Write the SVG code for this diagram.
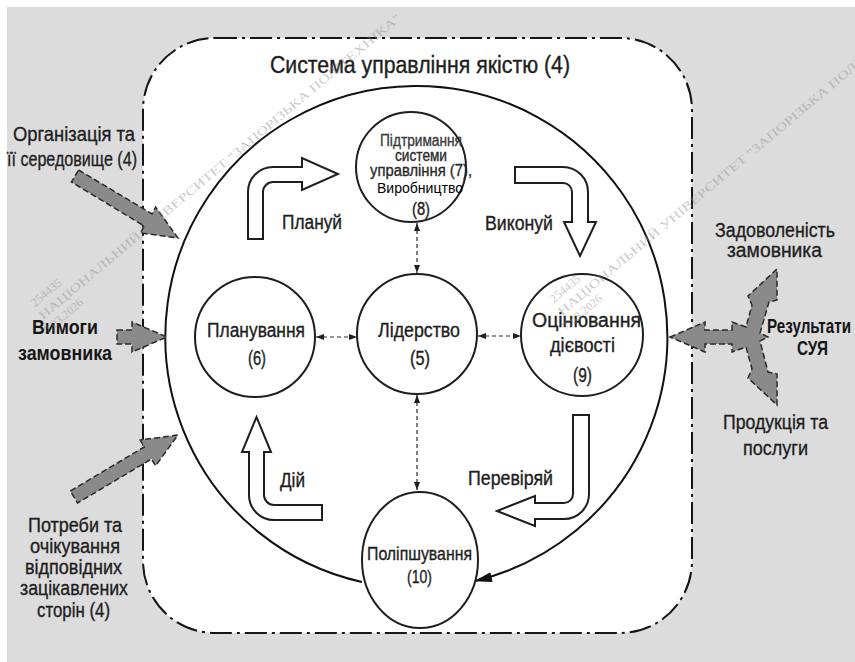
<svg xmlns="http://www.w3.org/2000/svg" width="855" height="662" viewBox="0 0 855 662">
<defs>
<style>
.t{font-family:"Liberation Sans",Arial,sans-serif;fill:#1e1e1e;stroke:#1e1e1e;stroke-width:0.35;}
.tb{font-family:"Liberation Sans",Arial,sans-serif;fill:#151515;font-weight:bold;}
.node{fill:#fff;stroke:#1e1e1e;stroke-width:2;}
.hollow{fill:#fff;stroke:#1e1e1e;stroke-width:2;stroke-linejoin:miter;}
.gray{fill:#8a8a8a;stroke:#2a2a2a;stroke-width:1.5;stroke-dasharray:6 3;stroke-linejoin:miter;}
.dash{fill:none;stroke:#2a2a2a;stroke-width:1.2;stroke-dasharray:4 3;}
.wm{font-family:"Liberation Serif","Times New Roman",serif;fill:#8c8c8c;opacity:0.45;font-size:12px;}
</style>
<marker id="sm" viewBox="0 0 8 6" markerWidth="8" markerHeight="6" refX="8" refY="3" orient="auto-start-reverse" markerUnits="userSpaceOnUse">
<path d="M0,0 L8,3 L0,6 Z" fill="#1e1e1e"/>
</marker>
<marker id="big" viewBox="0 0 18 10" markerWidth="18" markerHeight="10" refX="17" refY="5" orient="auto" markerUnits="userSpaceOnUse">
<path d="M0,0 L18,5 L0,10 Z" fill="#111"/>
</marker>
</defs>

<g id="background">
<rect x="0" y="0" width="855" height="662" fill="#ffffff"/>
<rect x="7" y="7" width="848" height="655" fill="#dcdcdc"/>
</g>

<g id="system-boundary">
<rect x="143" y="38" width="549" height="595" rx="72" ry="72" fill="#ffffff" stroke="#151515" stroke-width="2" stroke-dasharray="22 5 3 5"/>
<text class="t" x="270" y="73" font-size="23.5" textLength="300" lengthAdjust="spacingAndGlyphs">Система управління якістю (4)</text>
</g>

<g id="connectors">
<path d="M362,582 A251 251 0 1 1 475,581" fill="none" stroke="#111" stroke-width="2" marker-end="url(#big)"/>
<line class="dash" x1="417" y1="223" x2="417" y2="273" marker-start="url(#sm)" marker-end="url(#sm)"/>
<line class="dash" x1="316" y1="337" x2="357" y2="337" marker-start="url(#sm)" marker-end="url(#sm)"/>
<line class="dash" x1="478" y1="336" x2="521" y2="336" marker-start="url(#sm)" marker-end="url(#sm)"/>
<line class="dash" x1="417" y1="395" x2="417" y2="490" marker-start="url(#sm)" marker-end="url(#sm)"/>
</g>

<g id="node-support">
<circle class="node" cx="411" cy="167" r="55"/>
<text class="t" x="380" y="146" font-size="16" textLength="82" lengthAdjust="spacingAndGlyphs" style="fill:#3a3a3a;stroke:#3a3a3a">Підтримання</text>
<text class="t" x="395" y="161" font-size="16" textLength="52" lengthAdjust="spacingAndGlyphs" style="fill:#2a2a2a;stroke:#2a2a2a">системи</text>
<text class="t" x="370" y="176" font-size="16" textLength="102" lengthAdjust="spacingAndGlyphs" style="fill:#2a2a2a;stroke:#2a2a2a">управління (7),</text>
<text class="t" x="377" y="193" font-size="14" textLength="86" lengthAdjust="spacingAndGlyphs" style="fill:#000;stroke:none">Виробництво</text>
<text class="t" x="412" y="215" font-size="18" textLength="18" lengthAdjust="spacingAndGlyphs">(8)</text>
</g>

<g id="node-leadership">
<circle class="node" cx="417" cy="334" r="60"/>
<text class="t" x="378" y="337" font-size="19.5" textLength="82" lengthAdjust="spacingAndGlyphs">Лідерство</text>
<text class="t" x="410" y="365" font-size="19.5" textLength="20" lengthAdjust="spacingAndGlyphs">(5)</text>
</g>

<g id="node-planning">
<circle class="node" cx="255" cy="337" r="60"/>
<text class="t" x="207" y="337" font-size="19.5" textLength="98" lengthAdjust="spacingAndGlyphs">Планування</text>
<text class="t" x="248" y="365" font-size="19.5" textLength="18" lengthAdjust="spacingAndGlyphs">(6)</text>
</g>

<g id="node-evaluation">
<circle class="node" cx="582" cy="335" r="61"/>
<text class="t" x="532" y="327" font-size="19.5" textLength="109" lengthAdjust="spacingAndGlyphs">Оцінювання</text>
<text class="t" x="550" y="352" font-size="19.5" textLength="65" lengthAdjust="spacingAndGlyphs">дієвості</text>
<text class="t" x="573" y="382" font-size="19.5" textLength="19" lengthAdjust="spacingAndGlyphs">(9)</text>
</g>

<g id="node-improvement">
<ellipse class="node" cx="420" cy="560" rx="58" ry="68"/>
<text class="t" x="367" y="560" font-size="18.5" textLength="105" lengthAdjust="spacingAndGlyphs">Поліпшування</text>
<text class="t" x="407" y="583" font-size="18.5" textLength="25" lengthAdjust="spacingAndGlyphs">(10)</text>
</g>

<g id="pdca-plan">
<path class="hollow" d="M248,239 L248,192 A25 25 0 0 1 273,167 L302,167 L302,158 L338,174 L302,190 L302,182 L273,182 A10 10 0 0 0 263,192 L263,239 Z"/>
<text class="t" x="282" y="229" font-size="19.5" textLength="60" lengthAdjust="spacingAndGlyphs">Плануй</text>
</g>

<g id="pdca-do">
<path class="hollow" d="M515,167 L563,167 A25 25 0 0 1 588,192 L588,222 L596,222 L580,256 L564,222 L572,222 L572,192 A9 9 0 0 0 563,183 L515,183 Z"/>
<text class="t" x="485" y="230" font-size="19.5" textLength="68" lengthAdjust="spacingAndGlyphs">Виконуй</text>
</g>

<g id="pdca-check">
<path class="hollow" d="M573,415 L589,415 L589,494 A25 25 0 0 1 564,519 L535,519 L535,526 L497,511 L535,496 L535,503 L564,503 A9 9 0 0 0 573,494 Z"/>
<text class="t" x="468" y="485" font-size="19.5" textLength="85" lengthAdjust="spacingAndGlyphs">Перевіряй</text>
</g>

<g id="pdca-act">
<path class="hollow" d="M249,452 L249,495 A25 25 0 0 0 274,520 L322,520 L322,505 L274,505 A10 10 0 0 1 264,495 L264,452 L271,452 L256.5,417 L242,452 Z"/>
<text class="t" x="280" y="487" font-size="19.5" textLength="25" lengthAdjust="spacingAndGlyphs">Дій</text>
</g>

<g id="input-organization">
<polygon class="gray" points="78.6,170 152,213.9 155.7,207.1 178,238 140.3,232.9 144.4,226.1 71.4,182"/>
<text class="t" x="13" y="141" font-size="21" textLength="122" lengthAdjust="spacingAndGlyphs">Організація та</text>
<text class="t" x="7" y="166" font-size="21" textLength="130" lengthAdjust="spacingAndGlyphs">її середовище (4)</text>
</g>

<g id="input-customer">
<polygon class="gray" points="117,330 132,330 132,322 167,337 132,352 132,344 117,344"/>
<text class="tb" x="32" y="334" font-size="20" textLength="66" lengthAdjust="spacingAndGlyphs">Вимоги</text>
<text class="tb" x="18" y="360" font-size="20" textLength="94" lengthAdjust="spacingAndGlyphs">замовника</text>
</g>

<g id="input-stakeholders">
<polygon class="gray" points="70.4,491 144.3,446.9 140.2,440 178,435 155.6,465.8 151.5,458.9 77.6,503"/>
<text class="t" x="28" y="532" font-size="20.5" textLength="94" lengthAdjust="spacingAndGlyphs">Потреби та</text>
<text class="t" x="30" y="553" font-size="20.5" textLength="90" lengthAdjust="spacingAndGlyphs">очікування</text>
<text class="t" x="25" y="574" font-size="20.5" textLength="97" lengthAdjust="spacingAndGlyphs">відповідних</text>
<text class="t" x="20" y="595" font-size="20.5" textLength="108" lengthAdjust="spacingAndGlyphs">зацікавлених</text>
<text class="t" x="37" y="617" font-size="20.5" textLength="73" lengthAdjust="spacingAndGlyphs">сторін (4)</text>
</g>

<g id="output-results">
<polygon class="gray" points="670,337 705,322 705,330 732,330 732,322 746,327 752,305 748,296 777,269 777,300 769,302 760,333 768,337 760,341 768,372 777,374 777,405 748,378 752,369 746,347 732,352 732,344 705,344 705,352"/>
<text class="t" x="715" y="237" font-size="20.5" textLength="120" lengthAdjust="spacingAndGlyphs">Задоволеність</text>
<text class="t" x="727" y="257" font-size="20.5" textLength="95" lengthAdjust="spacingAndGlyphs">замовника</text>
<text class="tb" x="767" y="333" font-size="20" textLength="84" lengthAdjust="spacingAndGlyphs">Результати</text>
<text class="tb" x="797" y="355" font-size="20" textLength="31" lengthAdjust="spacingAndGlyphs">СУЯ</text>
<text class="t" x="723" y="429" font-size="20.5" textLength="105" lengthAdjust="spacingAndGlyphs">Продукція та</text>
<text class="t" x="743" y="455" font-size="20.5" textLength="65" lengthAdjust="spacingAndGlyphs">послуги</text>
</g>

<g id="watermarks">
<g transform="translate(43,320) rotate(-40)">
<text class="wm" x="2" y="-15">254435</text>
<text class="wm" x="0" y="0" textLength="468" lengthAdjust="spacingAndGlyphs">НАЦІОНАЛЬНИЙ УНІВЕРСИТЕТ "ЗАПОРІЗЬКА ПОЛІТЕХНІКА"</text>
<text class="wm" x="-6" y="14">7.03.2026</text>
</g>
<g transform="translate(562,316) rotate(-40)">
<text class="wm" x="2" y="-15">254435</text>
<text class="wm" x="0" y="0" textLength="468" lengthAdjust="spacingAndGlyphs">НАЦІОНАЛЬНИЙ УНІВЕРСИТЕТ "ЗАПОРІЗЬКА ПОЛІТЕХНІКА"</text>
<text class="wm" x="-6" y="14">7.03.2026</text>
</g>
</g>
</svg>
